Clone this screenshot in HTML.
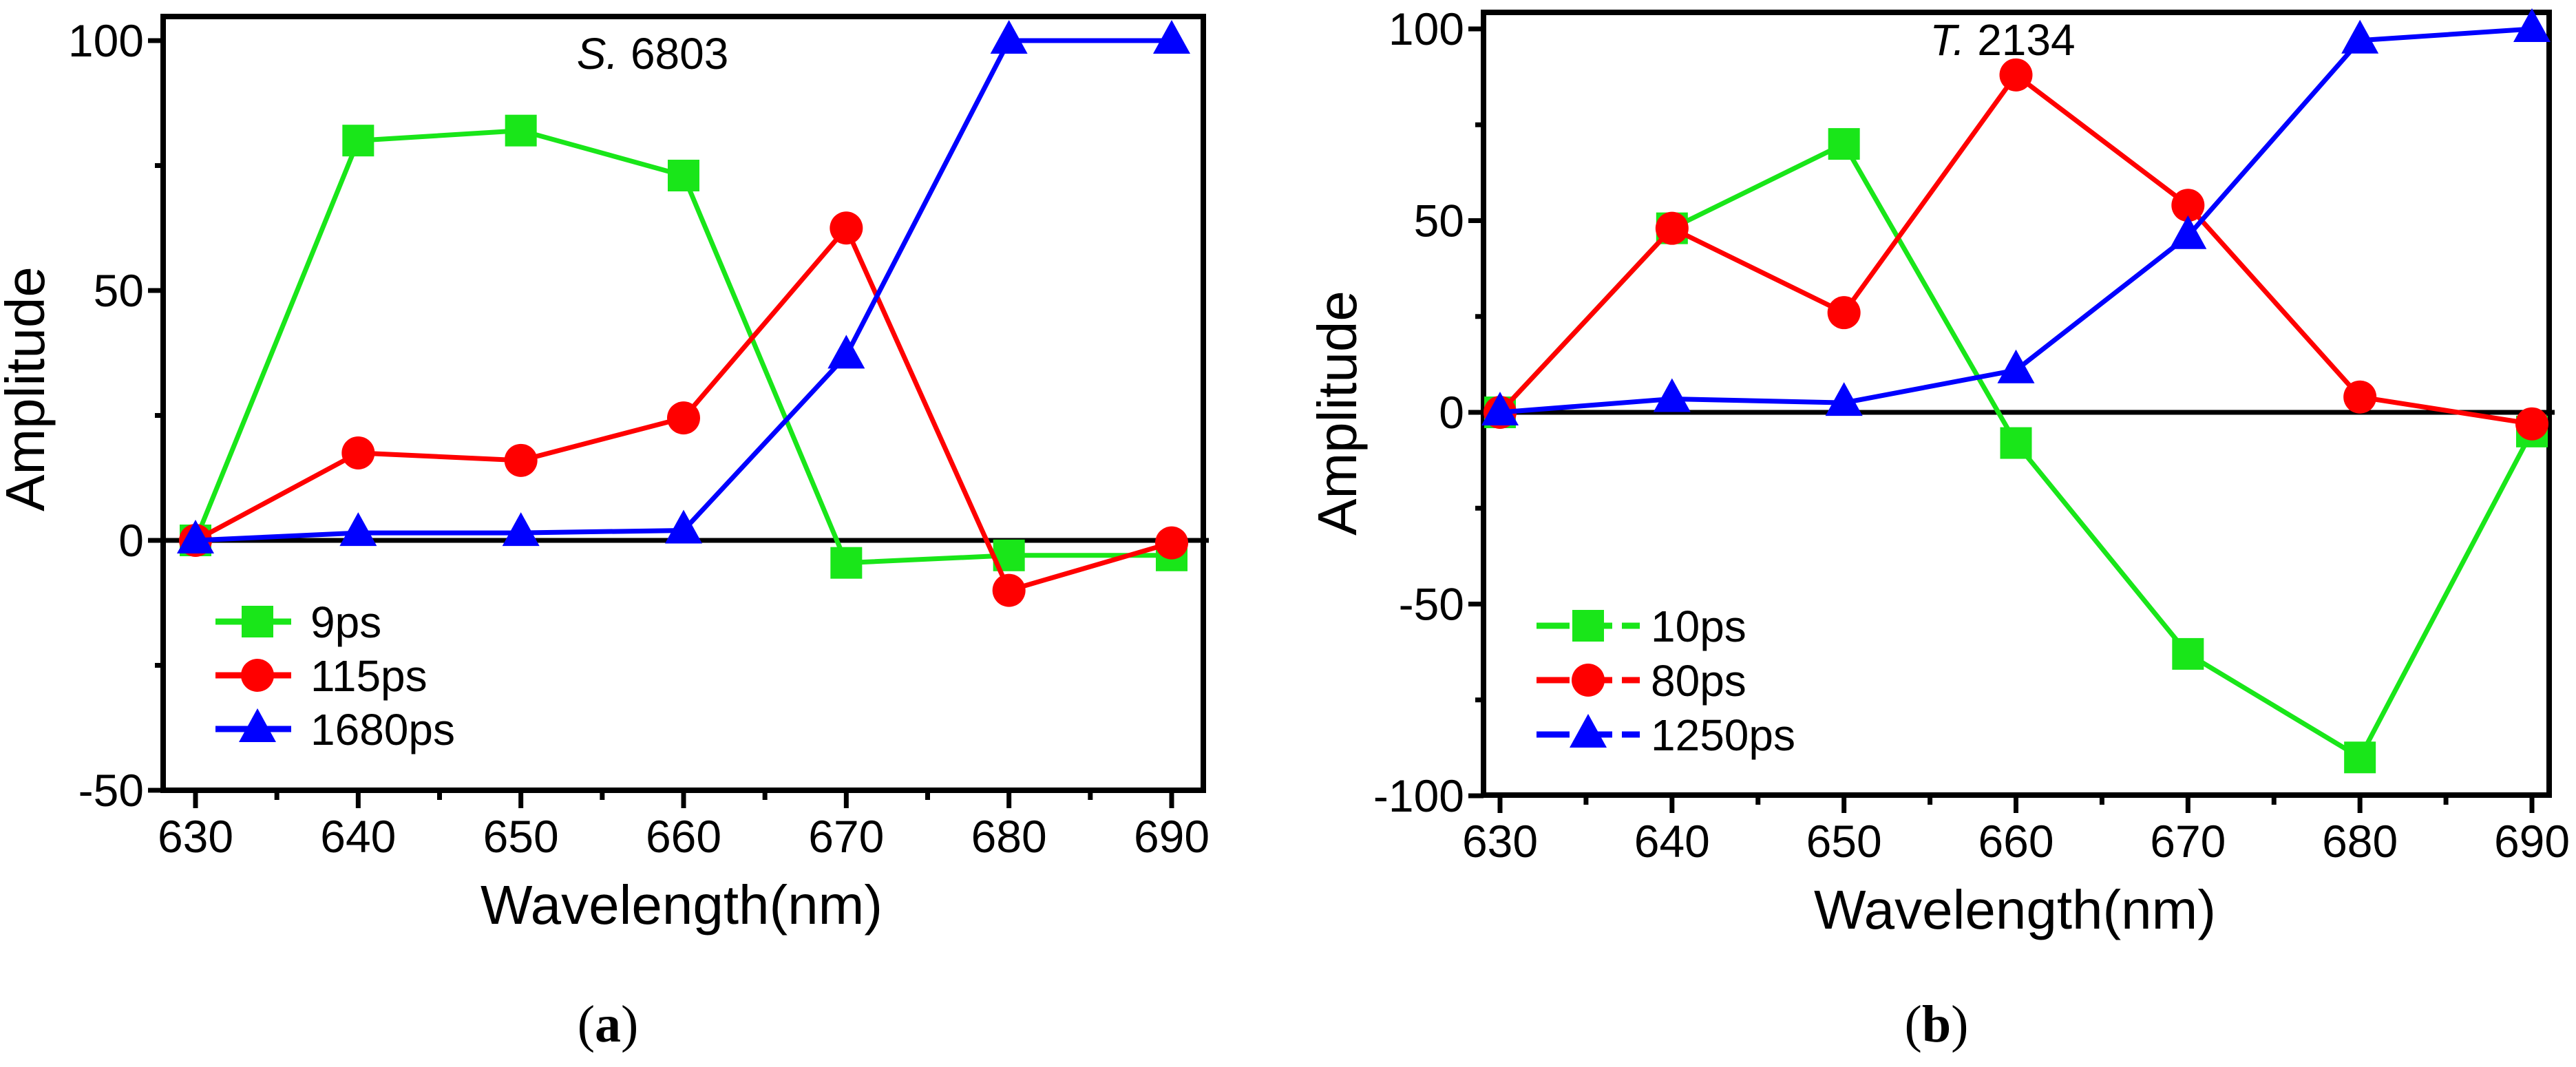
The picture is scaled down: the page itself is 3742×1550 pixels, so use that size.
<!DOCTYPE html>
<html><head><meta charset="utf-8"><style>
html,body{margin:0;padding:0;background:#fff;}
svg{display:block;}
text{font-family:"Liberation Sans",sans-serif;fill:#000;}
</style></head><body>
<svg id="fig" width="3742" height="1550" viewBox="0 0 3742 1550" xmlns="http://www.w3.org/2000/svg">
<rect width="3742" height="1550" fill="#fff"/>
</svg>
<script>
const wavelengths=[630,640,650,660,670,680,690];
const xTicks=[630,640,650,660,670,680,690];
const aNames=["9ps","115ps","1680ps"];
const a9=[0,80,82,73,-4.5,-3,-3];
const a115=[0,17.5,16,24.5,62.5,-10,-0.5];
const a1680=[0,1.5,1.5,2,37,100,100];
const aYTicks=[-50,0,50,100];
const bNames=["10ps","80ps","1250ps"];
const b10=[0,48,70,-8,-63,-90,-5];
const b80=[0,48,26,88,54,4,-3];
const b1250=[0,3.5,2.5,11,46,97,100];
const bYTicks=[-100,-50,0,50,100];

const NS="http://www.w3.org/2000/svg";
const svg=document.getElementById('fig');
function el(tag,attrs,parent,txt){const e=document.createElementNS(NS,tag);for(const k in attrs)e.setAttribute(k,attrs[k]);if(txt!==undefined)e.textContent=txt;(parent||svg).appendChild(e);return e;}
const colors=["#19e619","#ff0000","#0000ff"];
const shapes=["square","circle","triangle"];

function marker(g,shape,x,y,color){
  let m;
  if(shape==="square") m=el('rect',{x:x-23,y:y-23,width:46,height:46,fill:color},g);
  else if(shape==="circle") m=el('circle',{cx:x,cy:y,r:24,fill:color},g);
  else m=el('polygon',{points:`${x},${y-30} ${x+27},${y+19} ${x-27},${y+19}`,fill:color},g);
  return m;
}

function panel(cfg){
  const g=el('g',{});
  
  
  const X=v=>cfg.x0+(v-630)/60*(cfg.x1-cfg.x0);
  const Y=v=>cfg.yZero-(v)/100*(cfg.yZero-cfg.y100);
  const fr=el('rect',{x:cfg.left,y:cfg.top,width:cfg.right-cfg.left,height:cfg.bottom-cfg.top,fill:"none",stroke:"#000","stroke-width":8},g);
  
  
  const zl=el('line',{x1:cfg.left,x2:cfg.right+8,y1:Y(0),y2:Y(0),stroke:"#000","stroke-width":7},g);
  
  
  for(let v=630;v<=690;v+=5){
    const major=(v%10===0);
    const t=el('line',{x1:X(v),x2:X(v),y1:cfg.bottom,y2:cfg.bottom+(major?26:14),stroke:"#000","stroke-width":7},g);
    
    
  }
  xTicks.forEach(v=>{
    const t=el('text',{x:X(v),y:cfg.bottom+90,"font-size":66,"text-anchor":"middle"},g,String(v));
    
    
  });
  const ymin=cfg.yTicks[0],ymax=cfg.yTicks[cfg.yTicks.length-1];
  for(let v=ymin;v<=ymax;v+=25){
    const major=(v%50===0);
    const t=el('line',{x1:cfg.left-(major?22:12),x2:cfg.left,y1:Y(v),y2:Y(v),stroke:"#000","stroke-width":7},g);
    
    
  }
  cfg.yTicks.forEach(v=>{
    const t=el('text',{x:cfg.left-28,y:Y(v)+23,"font-size":66,"text-anchor":"end"},g,String(v));
    
    
  });
  const xt=el('text',{x:cfg.xTitleX,y:cfg.bottom+194,"font-size":80,"text-anchor":"middle"},g,"Wavelength(nm)");
  
  
  const yt=el('text',{x:0,y:0,"font-size":80,"text-anchor":"middle",transform:`translate(${cfg.yTitleX},${cfg.yTitleY}) rotate(-90)`},g,"Amplitude");
  
  
  const tt=el('text',{x:cfg.titleX,y:cfg.titleY,"font-size":64,"text-anchor":"middle"},g);
  
  
  el('tspan',{"font-style":"italic"},tt,cfg.titleIt);
  el('tspan',{},tt,cfg.titleRest);
  cfg.series.forEach((s,i)=>{
    const sg=el('g',{},g);
    
    
    const pts=wavelengths.map((w,j)=>X(w)+","+Y(s[j])).join(" ");
    const pl=el('polyline',{points:pts,fill:"none",stroke:colors[i],"stroke-width":7},sg);
    
    
    wavelengths.forEach((w,j)=>{
      const m=marker(sg,shapes[i],X(w),Y(s[j]),colors[i]);
      
      
    });
  });
  const lg=el('g',{},g);
  
  
  cfg.names.forEach((n,i)=>{
    const y=cfg.legY+i*cfg.legDy;
    const eg=el('g',{},lg);
    
    
    el('line',{x1:cfg.legX0,x2:cfg.legX1,y1:y,y2:y,stroke:colors[i],"stroke-width":9,"stroke-dasharray":"48 14"},eg);
    marker(eg,shapes[i],(cfg.legX0+cfg.legX1)/2,y,colors[i]);
    el('text',{x:cfg.legX1+16,y:y+23,"font-size":64},eg,n);
  });
  const cp=el('text',{x:cfg.capX,y:1513,"font-size":76,"text-anchor":"middle",style:"font-family:'Liberation Serif',serif"},g);
  
  
  el('tspan',{},cp,"(");
  el('tspan',{"font-weight":"bold"},cp,cfg.cap);
  el('tspan',{},cp,")");
}

panel({name:'panel-a',left:237,right:1748,top:24,bottom:1148,x0:284,x1:1702,yZero:785,y100:59,yTicks:aYTicks,
  series:[a9,a115,a1680],names:aNames,xTitleX:990,yTitleX:64,yTitleY:565,titleX:948,titleY:100,titleIt:"S.",titleRest:" 6803",
  legY:903,legDy:78,legX0:313,legX1:435,capX:883,cap:"a"});
panel({name:'panel-b',left:2155,right:3703,top:18,bottom:1155,x0:2179,x1:3678,yZero:599,y100:42,yTicks:bYTicks,
  series:[b10,b80,b1250],names:bNames,xTitleX:2927,yTitleX:1970,yTitleY:600,titleX:2909,titleY:80,titleIt:"T.",titleRest:" 2134",
  legY:909,legDy:79,legX0:2232,legX1:2382,capX:2813,cap:"b"});
</script>
</body></html>
